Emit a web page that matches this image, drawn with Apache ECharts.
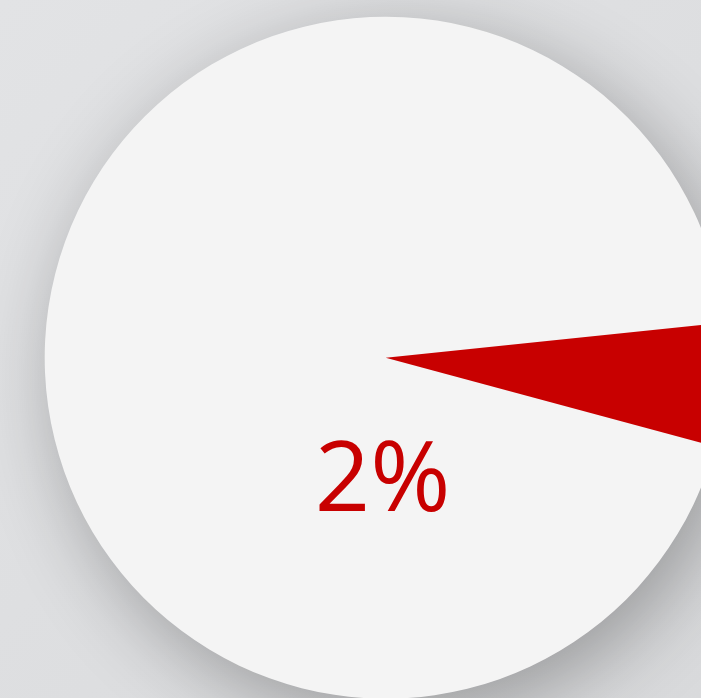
<!DOCTYPE html>
<html>
<head>
<meta charset="utf-8">
<script src="https://cdn.jsdelivr.net/npm/echarts@6/dist/echarts.min.js"></script>
<style>
html,body{margin:0;padding:0;width:701px;height:698px;overflow:hidden;}
#chart{width:701px;height:698px;}
</style>
</head>
<body>
<div id="chart"></div>
<script>
// Data
var seriesName = ['Share'];
var values = [2];
var valueMin = 0;
var valueMax = 100;

var chart = echarts.init(document.getElementById('chart'), null, {renderer: 'canvas'});
var option = {
  backgroundColor: {
    type: 'linear', x: 0, y: 0, x2: 1, y2: 1,
    colorStops: [
      {offset: 0, color: '#e2e3e5'},
      {offset: 1, color: '#d9dadc'}
    ]
  },
  series: [{
    type: 'gauge',
    name: seriesName[0],
    center: ['55.02%', '51.25%'],
    radius: 341,
    min: valueMin,
    max: valueMax,
    startAngle: 2.6,
    endAngle: -357.4,
    axisLine: {
      roundCap: false,
      lineStyle: {
        width: 341,
        color: [[1, '#f4f4f4']],
        shadowBlur: 80,
        shadowColor: 'rgba(0,0,0,0.3)',
        shadowOffsetX: 14,
        shadowOffsetY: 20
      }
    },
    axisTick: {show: false},
    splitLine: {show: false},
    axisLabel: {show: false},
    anchor: {show: false},
    title: {show: false},
    progress: {show: false},
    pointer: {
      show: true,
      icon: 'path://M0,0 L100,0 L50,100 Z',
      length: 380,
      width: 141,
      offsetCenter: [0, 0],
      keepAspect: false,
      itemStyle: {color: '#c80000'}
    },
    detail: {
      show: true,
      offsetCenter: [-3, 126],
      valueAnimation: false,
      formatter: '{value}%',
      color: '#c80000',
      fontFamily: 'Open Sans',
      fontWeight: 'normal',
      fontSize: 97
    },
    animation: false,
    data: values.map(function (v, i) { return {value: v, name: seriesName[i]}; })
  }]
};
chart.setOption(option);
</script>
</body>
</html>
